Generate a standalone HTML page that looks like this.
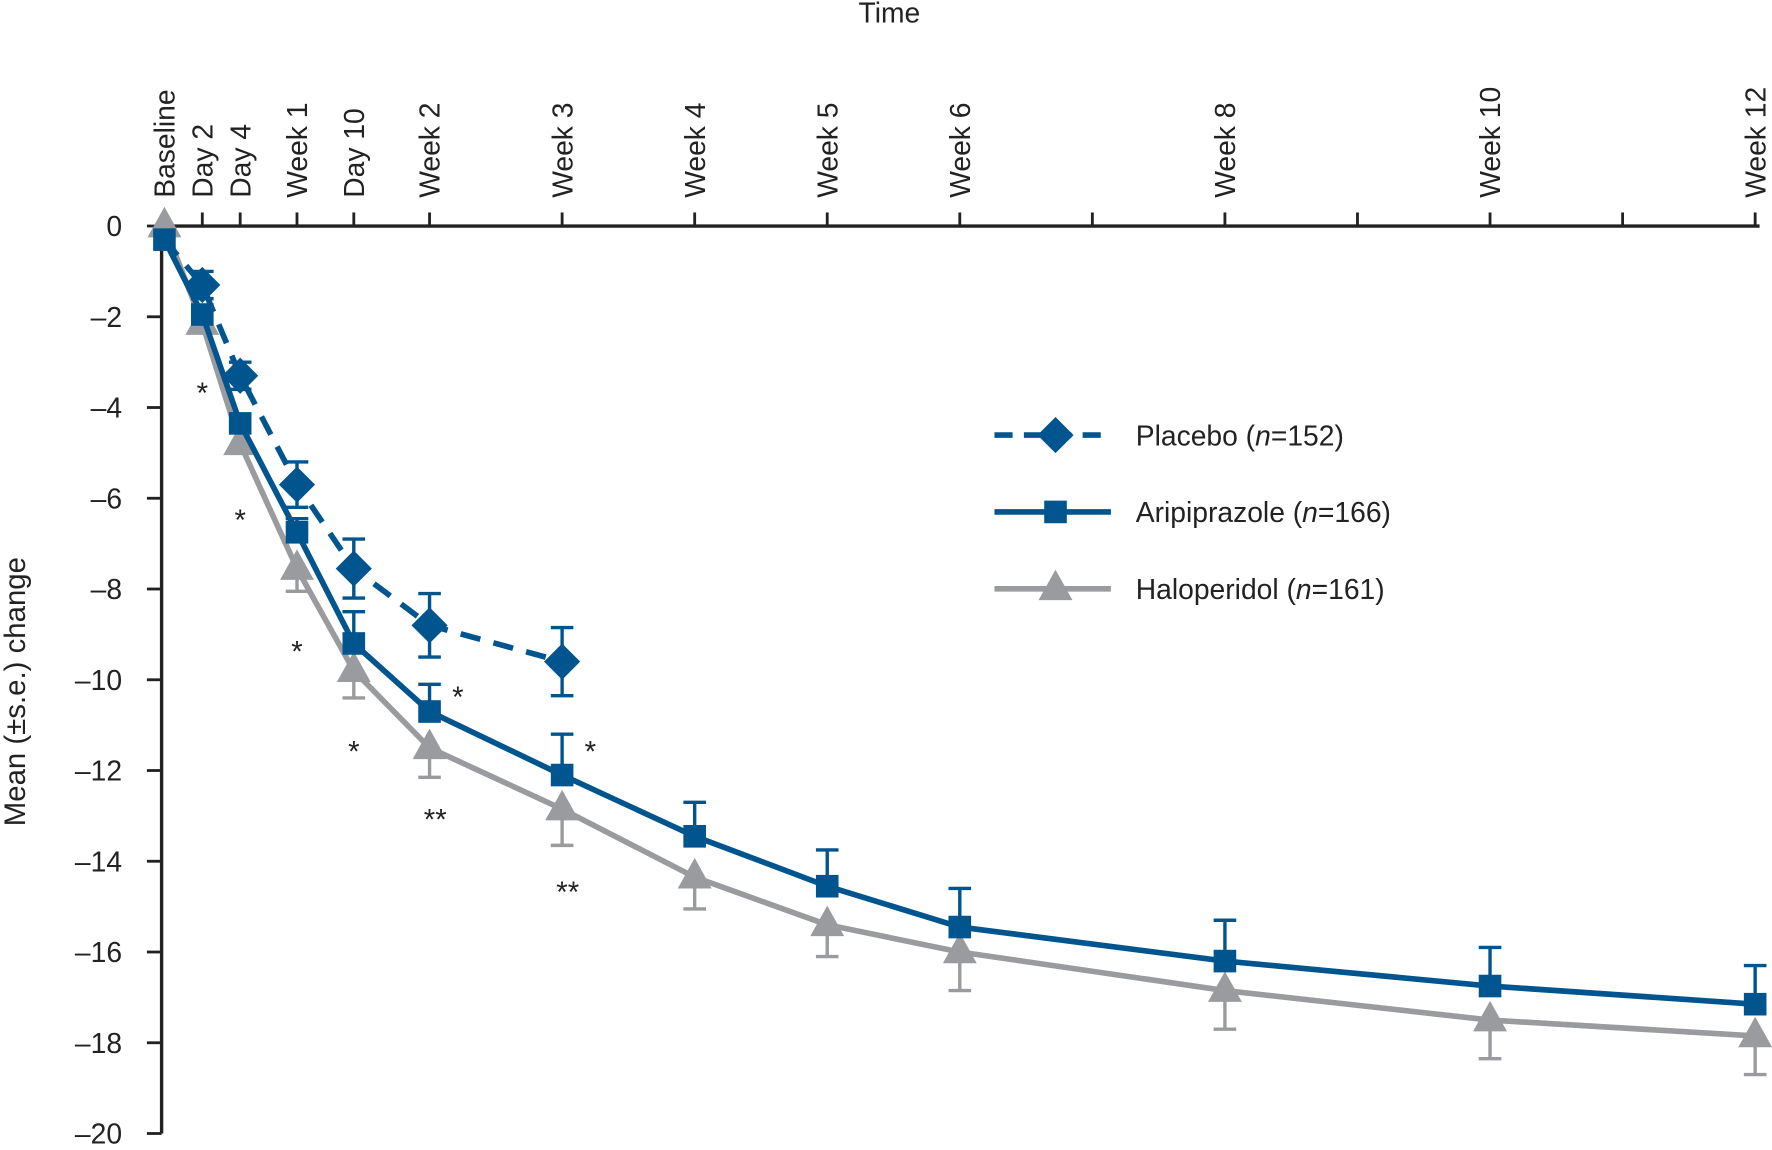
<!DOCTYPE html>
<html><head><meta charset="utf-8"><style>
html,body{margin:0;padding:0;background:#fff}
svg{display:block}
text{font-family:"Liberation Sans",sans-serif;fill:#222}
</style></head><body>
<svg id="chart" width="1772" height="1150" viewBox="0 0 1568 1017.6" preserveAspectRatio="none" xmlns="http://www.w3.org/2000/svg">
<g id="axes"></g>
<g id="series"></g>
<g id="legend"></g>
</svg>
<script>
const xTickWeeks=[0,2/7,4/7,1,10/7,2,3,4,5,6,7,8,9,10,11,12];
const xTickLabels=["Baseline","Day 2","Day 4","Week 1","Day 10","Week 2","Week 3","Week 4","Week 5","Week 6","","Week 8","","Week 10","","Week 12"];
const yTicks=[0,-2,-4,-6,-8,-10,-12,-14,-16,-18,-20];
const placeboT=[0,2/7,4/7,1,10/7,2,3];
const placeboV=[-0.3,-1.3,-3.3,-5.7,-7.55,-8.8,-9.6];
const placeboE=[0,0.3,0.3,0.5,0.65,0.7,0.75];
const ariT=[0,2/7,4/7,1,10/7,2,3,4,5,6,8,10,12];
const ariV=[-0.3,-1.95,-4.35,-6.75,-9.2,-10.7,-12.1,-13.45,-14.55,-15.45,-16.2,-16.75,-17.15];
const ariE=[0,0,0,0.3,0.7,0.6,0.9,0.75,0.8,0.85,0.9,0.85,0.85];
const haloT=[0,2/7,4/7,1,10/7,2,3,4,5,6,8,10,12];
const haloV=[0,-2.15,-4.8,-7.55,-9.8,-11.5,-12.85,-14.35,-15.4,-16.0,-16.85,-17.5,-17.85];
const haloE=[0,0,0,0.5,0.6,0.65,0.8,0.7,0.7,0.85,0.85,0.85,0.85];
const starT=[2/7,4/7,1,10/7,2,2,3,3];
const starV=[-3.6,-6.4,-9.3,-11.5,-10.3,-13.0,-11.5,-14.6];
const starLabels=["*","*","*","*","*","**","*","**"];

const NS="http://www.w3.org/2000/svg";
const BLUE="#00558f",GRAY="#9a9b9e";
const X=t=>145.5+117.3*t;
const Y=v=>200-v*40.15;
function mk(tag,attrs,parent,txt){const e=document.createElementNS(NS,tag);for(const k in attrs)e.setAttribute(k,attrs[k]);if(txt!==undefined)e.textContent=txt;parent.appendChild(e);return e;}
const axes=document.getElementById('axes'),series=document.getElementById('series'),legend=document.getElementById('legend');

let e=mk('line',{x1:143,y1:Y(0),x2:1557,y2:Y(0),stroke:'#222','stroke-width':3},axes);

e=mk('line',{x1:143,y1:Y(0),x2:143,y2:Y(-20),stroke:'#222','stroke-width':3},axes);

e=mk('text',{x:787,y:20,'font-size':25,'text-anchor':'middle'},axes,'Time');

e=mk('text',{x:0,y:0,'font-size':26,'text-anchor':'middle',transform:'translate(22,612) rotate(-90)'},axes,'Mean (\u00b1s.e.) change');

xTickWeeks.forEach((t,i)=>{
  const x=X(t);
  const l=mk('line',{x1:x,y1:Y(0),x2:x,y2:Y(0)-12,stroke:'#222','stroke-width':2.5},axes);
  
  if(xTickLabels[i]){
    const tx=mk('text',{x:0,y:0,'font-size':25,transform:`translate(${x+9},175) rotate(-90)`},axes,xTickLabels[i]);
    
  }
});
yTicks.forEach(v=>{
  const y=Y(v);
  const l=mk('line',{x1:130,y1:y,x2:143,y2:y,stroke:'#222','stroke-width':2.5},axes);
  
  const tx=mk('text',{x:108,y:y+9,'font-size':25,'text-anchor':'end'},axes,v===0?'0':'\u2013'+Math.abs(v));
  
});

function marker(type,x,y,color,parent){
  let m;
  if(type==='d')m=mk('polygon',{points:`${x},${y-16} ${x+16},${y} ${x},${y+16} ${x-16},${y}`,fill:color},parent);
  else if(type==='s')m=mk('rect',{x:x-10,y:y-10,width:20,height:20,fill:color},parent);
  else m=mk('polygon',{points:`${x},${y-17} ${x+15},${y+10} ${x-15},${y+10}`,fill:color},parent);
  return m;
}
function drawSeries(name,T,V,E,color,type,dash,errMode,skipFirst){
  const g=mk('g',{},series);
  
  const pts=T.map((t,i)=>X(t)+','+Y(V[i])).join(' ');
  const pl=mk('polyline',{points:pts,fill:'none',stroke:color,'stroke-width':5,'stroke-dasharray':dash||'none','stroke-linejoin':'round'},g);
  
  T.forEach((t,i)=>{
    const x=X(t),y=Y(V[i]);
    if(E[i]>0){
      const up=errMode!=='down',dn=errMode!=='up';
      const y1=up?Y(V[i]+E[i]):y,y2=dn?Y(V[i]-E[i]):y;
      const eb=mk('path',{d:`M${x},${y1}V${y2}`+(up?`M${x-10},${y1}H${x+10}`:'')+(dn?`M${x-10},${y2}H${x+10}`:''),stroke:color,'stroke-width':3,fill:'none'},g);
      
    }
    if(skipFirst&&i===0)return;
    const m=marker(type,x,y,color,g);
    
  });
}
drawSeries('haloperidol',haloT,haloV,haloE,GRAY,'t',null,'down',false);
drawSeries('placebo',placeboT,placeboV,placeboE,BLUE,'d','18,12','both',true);
drawSeries('aripiprazole',ariT,ariV,ariE,BLUE,'s',null,'up',false);
starT.forEach((t,i)=>{
  const s=mk('text',{x:X(t)+(starLabels[i]==='**'?5:(i===4||i===6?25:0)),y:Y(starV[i])+12,'font-size':26,'text-anchor':'middle'},series,starLabels[i]);
  
});
const legItems=[['Placebo','152',BLUE,'d','16,10'],['Aripiprazole','166',BLUE,'s',null],['Haloperidol','161',GRAY,'t',null]];
legItems.forEach((it,i)=>{
  const y=385+i*68;
  const g=mk('g',{},legend);
  
  mk('line',{x1:880,y1:y,x2:983,y2:y,stroke:it[2],'stroke-width':5,'stroke-dasharray':it[4]||'none'},g);
  marker(it[3],934,y,it[2],g);
  const t=mk('text',{x:1005,y:y+9,'font-size':25},g);
  t.appendChild(document.createTextNode(it[0]+' ('));
  mk('tspan',{'font-style':'italic'},t,'n');
  t.appendChild(document.createTextNode('='+it[1]+')'));
});
</script>
</body></html>
